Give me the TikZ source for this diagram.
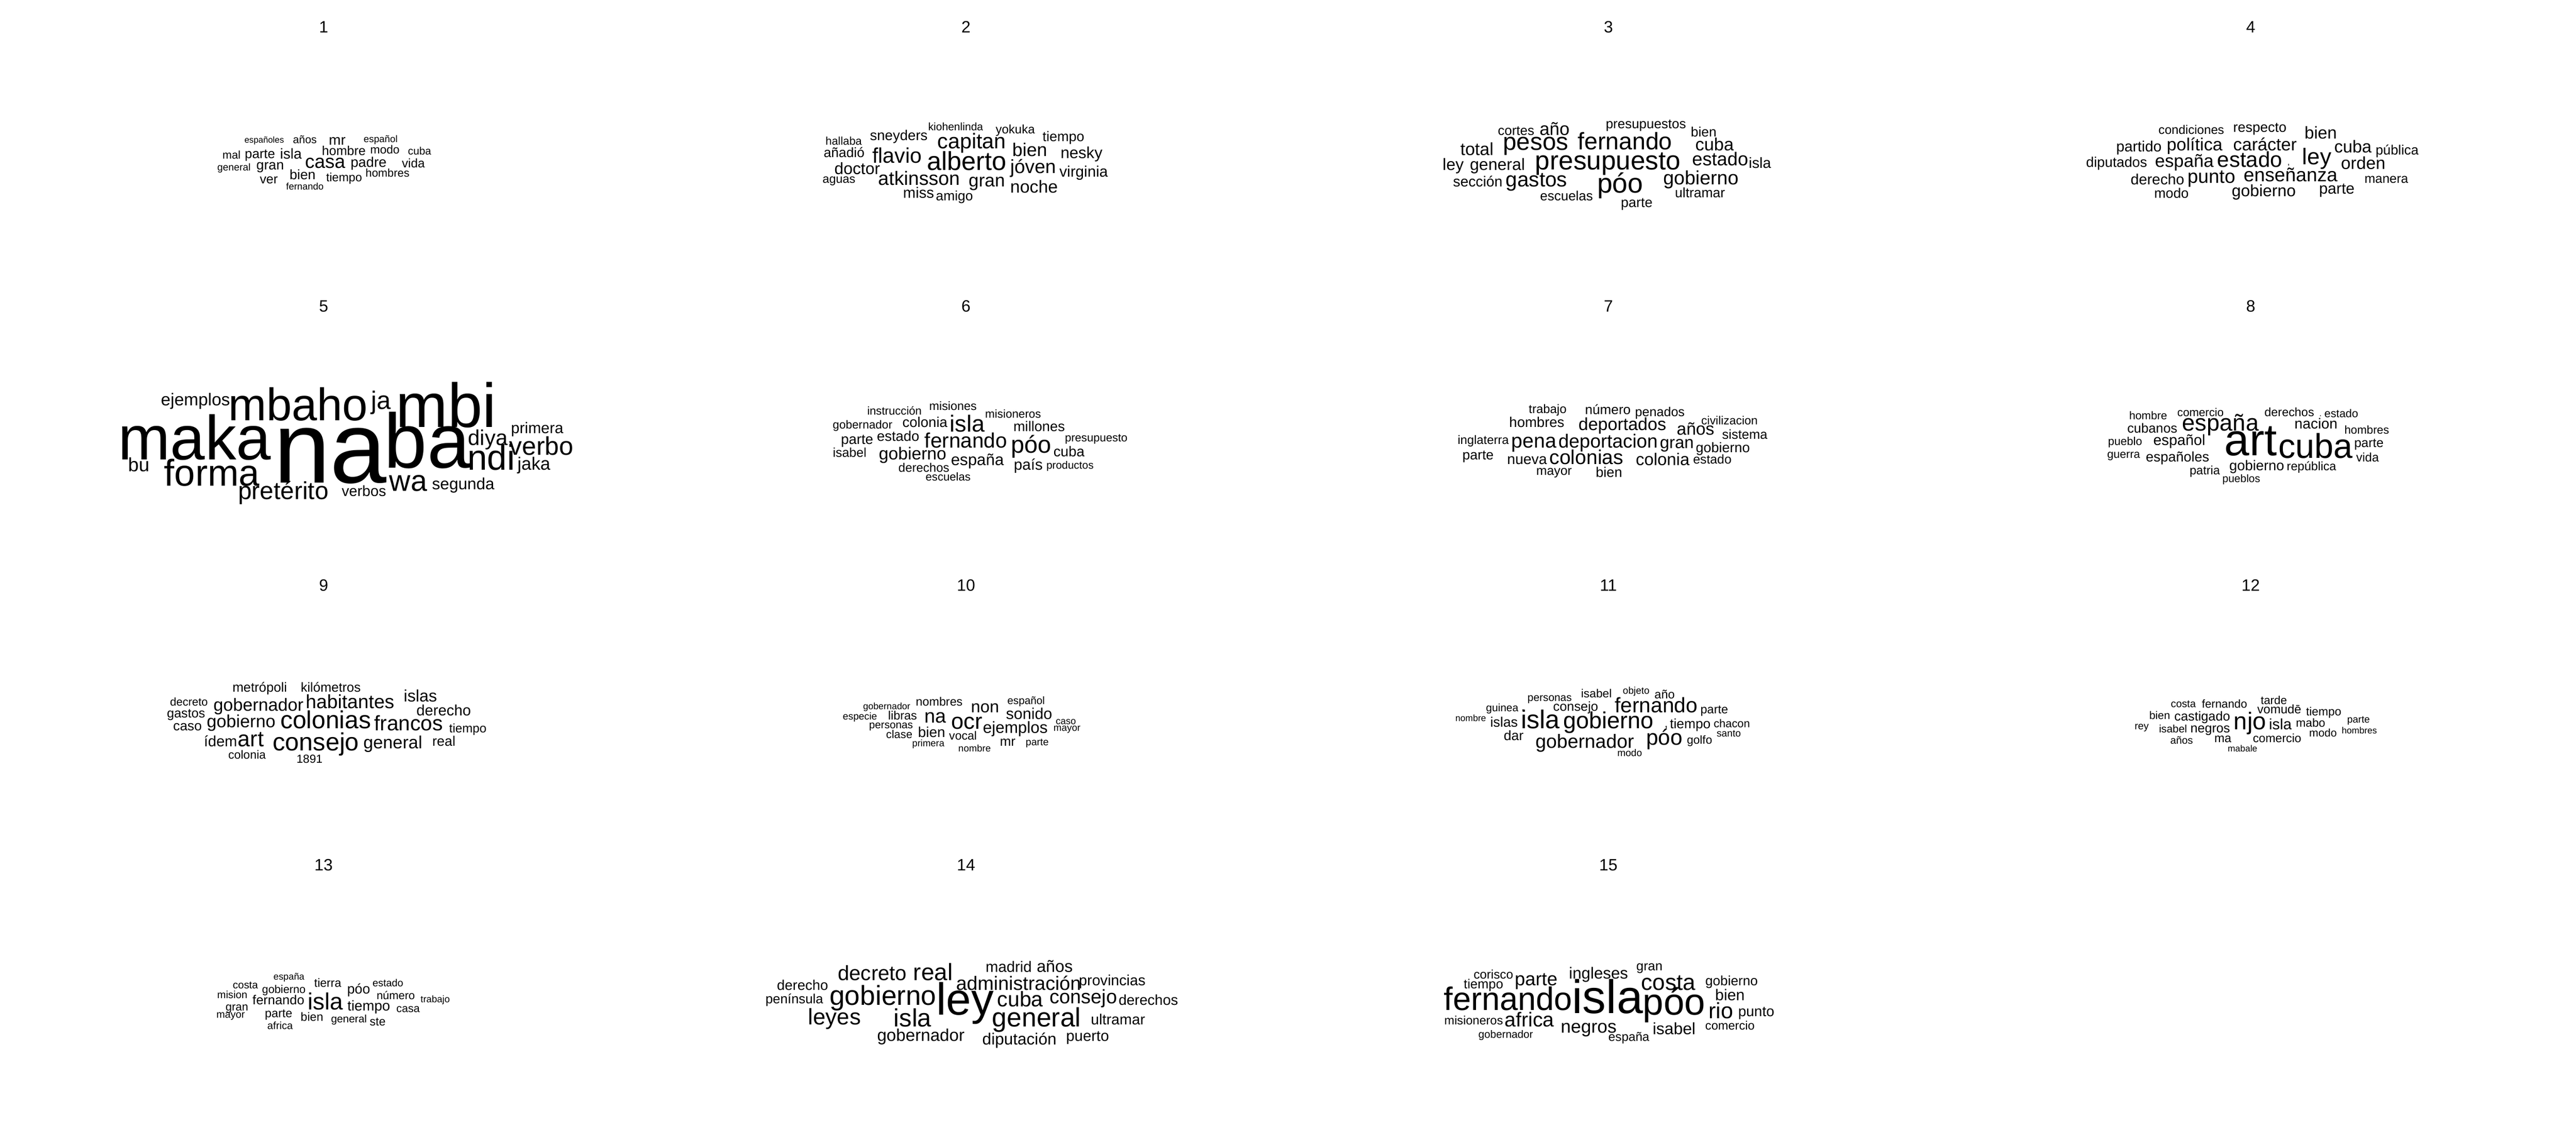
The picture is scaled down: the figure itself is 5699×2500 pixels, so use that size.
\documentclass[tikz,border=0pt]{standalone}
\usepackage{fontspec}
\setmainfont{Liberation Sans}
\newcounter{wc}
\tikzset{wd/.style={anchor=base,inner sep=0pt,outer sep=0pt,text=black}}
\newcommand\wrd[4]{\stepcounter{wc}\pgfmathsetmacro\fs{#3*\kx}\node[wd,font=\fontsize{\fs}{\fs}\selectfont] (w\arabic{wc}) at (#1,#2) {#4};}
\begin{document}
\begin{tikzpicture}[x=1pt,y=-1pt]
\fill[white] (0,0) rectangle (5699,2500);
\useasboundingbox (0,0) rectangle (5699,2500);
% titles and display-based panels
\begin{scope}[xscale=3.6346,yscale=3.6346]
\def\kx{3.6346}
\wrd{197}{20}{10}{1}\wrd{588}{20}{10}{2}\wrd{979}{20}{10}{3}\wrd{1370}{20}{10}{4}
\wrd{197}{190}{10}{5}\wrd{588}{190}{10}{6}\wrd{979}{190}{10}{7}\wrd{1370}{190}{10}{8}
\wrd{197}{360}{10}{9}\wrd{588}{360}{10}{10}\wrd{979}{360}{10}{11}\wrd{1370}{360}{10}{12}
\wrd{197}{530}{10}{13}\wrd{588}{530}{10}{14}\wrd{979}{530}{10}{15}
% panel 5
\wrd{119}{247}{10.5}{ejemplos}
\wrd{181.5}{256}{27.8}{mbaho}
\wrd{232}{249}{15.4}{ja}
\wrd{271.5}{260}{37.9}{mbi}
\wrd{118.5}{280}{38}{maka}
\wrd{201}{294}{62}{na}
\wrd{260}{285}{47}{ba}
\wrd{299}{286}{21.7}{ndi}
\wrd{297}{271}{13.1}{diya}
\wrd{327}{264}{9.4}{primera}
\wrd{329.5}{277}{15.6}{verbo}
\wrd{325}{286}{10.9}{jaka}
\wrd{84.5}{287}{11.7}{bu}
\wrd{129}{296}{22.7}{forma}
\wrd{248.5}{299}{18}{wa}
\wrd{282}{298}{9.9}{segunda}
\wrd{172.5}{304}{15}{pretérito}
\wrd{221.5}{302}{9}{verbos}
% panel 14
\wrd{614}{592}{9.2}{madrid}
\wrd{642}{592}{10.1}{años}
\wrd{531}{597}{12.6}{decreto}
\wrd{568}{597}{14.4}{real}
\wrd{620}{603}{11.8}{administración}
\wrd{677}{600}{9}{provincias}
\wrd{488.5}{603}{8.6}{derecho}
\wrd{483.5}{611}{8.1}{península}
\wrd{537.5}{612}{16.7}{gobierno}
\wrd{587.5}{618}{27.4}{ley}
\wrd{621}{613}{12.9}{cuba}
\wrd{659.5}{611}{11.9}{consejo}
\wrd{699}{612}{8.8}{derechos}
\wrd{508}{624}{13.7}{leyes}
\wrd{555.5}{625}{15.3}{isla}
\wrd{631}{625}{16.2}{general}
\wrd{680.5}{624}{9}{ultramar}
\wrd{560.5}{634}{10.4}{gobernador}
\wrd{620.5}{636}{9.9}{diputación}
\wrd{662}{634}{9.2}{puerto}
% panel 15
\wrd{909}{596}{7.6}{corisco}
\wrd{1004}{591}{8}{gran}
\wrd{973}{596}{9.8}{ingleses}
\wrd{935}{600}{11.4}{parte}
\wrd{1015.5}{603}{13.8}{costa}
\wrd{1054}{600}{8.2}{gobierno}
\wrd{903}{602}{8}{tiempo}
\wrd{918}{615}{19.8}{fernando}
\wrd{978.5}{617}{28.7}{isla}
\wrd{1019}{618}{22.8}{póo}
\wrd{1053}{609}{9.5}{bien}
\wrd{1047.5}{620}{13.5}{rio}
\wrd{1069}{619}{8.8}{punto}
\wrd{897}{624}{7.4}{misioneros}
\wrd{931}{625}{12.3}{africa}
\wrd{967}{629}{11.1}{negros}
\wrd{1019}{630}{10}{isabel}
\wrd{916.5}{632}{6.5}{gobernador}
\wrd{991.5}{634}{7.6}{españa}
\wrd{1053}{627}{7.4}{comercio}
\end{scope}
% panel 1
\begin{scope}[shift={(470,280)},xscale=0.338,yscale=0.33333]
\def\kx{0.338}
\wrd{339}{110}{56.7}{españoles}
\wrd{605}{112}{72}{años}
\wrd{817}{122}{93.5}{mr}
\wrd{1101}{104}{63.4}{español}
\wrd{125}{215}{73.2}{mal}
\wrd{311}{213}{86.9}{parte}
\wrd{514}{215}{94.7}{isla}
\wrd{860}{190}{84.4}{hombre}
\wrd{1129}{182}{76.8}{modo}
\wrd{1356}{188}{70.1}{cuba}
\wrd{141}{293}{65.4}{general}
\wrd{378}{285}{90}{gran}
\wrd{738}{275}{124.5}{casa}
\wrd{1022}{270}{91.9}{padre}
\wrd{1315}{273}{81.8}{vida}
\wrd{590}{350}{90}{bien}
\wrd{862}{365}{78.3}{tiempo}
\wrd{1146}{335}{73.8}{hombres}
\wrd{369}{378}{85}{ver}
\wrd{605}{420}{62.1}{fernando}
\end{scope}
% panel 2
\begin{scope}[shift={(1818,257)},xscale=0.4337,yscale=0.33333]
\def\kx{0.4337}
\wrd{683}{95}{55.4}{kiohenlinda}
\wrd{987}{115}{63.1}{yokuka}
\wrd{393}{160}{72.5}{sneyders}
\wrd{112}{190}{57.4}{hallaba}
\wrd{765}{215}{108.6}{capitan}
\wrd{1233}{168}{71}{tiempo}
\wrd{114}{272}{69.3}{añadió}
\wrd{384}{310}{108}{flavio}
\wrd{1061}{268}{94.2}{bien}
\wrd{1325}{280}{81.9}{nesky}
\wrd{740}{360}{132.8}{alberto}
\wrd{181}{385}{83.8}{doctor}
\wrd{1078}{378}{97.5}{jóven}
\wrd{1336}{405}{78}{virginia}
\wrd{88}{445}{61.3}{aguas}
\wrd{496}{458}{98.7}{atkinsson}
\wrd{842}{470}{92.5}{gran}
\wrd{1083}{510}{89.2}{noche}
\wrd{494}{545}{76.9}{miss}
\wrd{677}{560}{69.4}{amigo}
\end{scope}
% panel 3
\begin{scope}[shift={(3231,257)},xscale=0.4732,yscale=0.33333]
\def\kx{0.4732}
\wrd{260}{128}{62.4}{cortes}
\wrd{440}{128}{83.9}{año}
\wrd{867}{83}{62.5}{presupuestos}
\wrd{1137}{138}{63.5}{bien}
\wrd{77}{260}{82}{total}
\wrd{352}{227}{114.3}{pesos}
\wrd{769}{222}{112}{fernando}
\wrd{1188}{230}{83}{cuba}
\wrd{-34}{358}{77.1}{ley}
\wrd{173}{358}{77.1}{general}
\wrd{690}{355}{123.6}{presupuesto}
\wrd{1214}{330}{87.3}{estado}
\wrd{1400}{345}{69.3}{isla}
\wrd{81}{470}{68.2}{sección}
\wrd{356}{470}{97.4}{gastos}
\wrd{747}{510}{128.9}{póo}
\wrd{1124}{455}{90.5}{gobierno}
\wrd{496}{560}{62.6}{escuelas}
\wrd{1120}{540}{63.8}{ultramar}
\wrd{824}{605}{64.9}{parte}
\end{scope}
% panel 4
\begin{scope}[shift={(4700,257)},xscale=0.4566,yscale=0.33333]
\def\kx{0.4566}
\wrd{324}{120}{60.2}{condiciones}
\wrd{656}{105}{67.3}{respecto}
\wrd{951}{150}{83.1}{bien}
\wrd{70}{235}{72}{partido}
\wrd{340}{230}{85.2}{política}
\wrd{681}{228}{85.3}{carácter}
\wrd{932}{320}{110.3}{ley}
\wrd{1107}{243}{83.5}{cuba}
\wrd{1321}{258}{65.7}{pública}
\wrd{-38}{340}{68.2}{diputados}
\wrd{290}{340}{86.6}{españa}
\wrd{607}{340}{104.9}{estado}
\wrd{1157}{352}{84.1}{orden}
\wrd{160}{455}{72}{derecho}
\wrd{421}{445}{92.7}{punto}
\wrd{805}{435}{93}{enseñanza}
\wrd{1269}{445}{62.5}{manera}
\wrd{228}{545}{66.8}{modo}
\wrd{675}{535}{79.7}{gobierno}
\wrd{1029}{515}{75.5}{parte}
\wrd{795}{325}{40}{,}
\end{scope}
% panel 6
\begin{scope}[shift={(1836,881)},xscale=0.4464,yscale=0.33333]
\def\kx{0.4464}
\wrd{610}{80}{59.6}{misiones}
\wrd{320}{112}{56.5}{instrucción}
\wrd{908}{133}{57.3}{misioneros}
\wrd{162}{205}{57.7}{gobernador}
\wrd{471}{195}{70.4}{colonia}
\wrd{681}{225}{115.3}{isla}
\wrd{1037}{220}{69.5}{millones}
\wrd{135}{305}{70.2}{parte}
\wrd{338}{285}{70}{estado}
\wrd{674}{330}{103.4}{fernando}
\wrd{998}{365}{119.9}{póo}
\wrd{1320}{290}{56.3}{presupuesto}
\wrd{98}{392}{63.9}{isabel}
\wrd{410}{410}{86.1}{gobierno}
\wrd{1185}{388}{71}{cuba}
\wrd{731}{445}{79.9}{españa}
\wrd{983}{478}{75.7}{país}
\wrd{466}{490}{61.3}{derechos}
\wrd{1190}{470}{53.3}{productos}
\wrd{586}{548}{56.5}{escuelas}
\end{scope}
% panel 7
\begin{scope}[shift={(3231,881)},xscale=0.4694,yscale=0.33333]
\def\kx{0.4694}
\wrd{411}{100}{58.2}{trabajo}
\wrd{695}{108}{63.4}{número}
\wrd{940}{122}{61}{penados}
\wrd{360}{192}{66.8}{hombres}
\wrd{763}{215}{82.6}{deportados}
\wrd{1268}{175}{55.6}{civilizacion}
\wrd{1108}{245}{81.6}{años}
\wrd{1340}{272}{62.1}{sistema}
\wrd{107.5}{305}{57.8}{inglaterra}
\wrd{346}{330}{95.3}{pena}
\wrd{696}{330}{89.6}{deportacion}
\wrd{1020}{335}{80}{gran}
\wrd{1237}{360}{65.5}{gobierno}
\wrd{83}{408}{64.5}{parte}
\wrd{314}{440}{69}{nueva}
\wrd{594}{438}{94.9}{colonias}
\wrd{953}{445}{79.9}{colonia}
\wrd{1187}{435}{60.3}{estado}
\wrd{441}{512}{60.5}{mayor}
\wrd{700}{525}{66.1}{bien}
\end{scope}
% panel 8
\begin{scope}[shift={(4700,895)},xscale=0.4337,yscale=0.33333]
\def\kx{0.4337}
\wrd{121}{100}{56.9}{hombre}
\wrd{388}{80}{58.4}{comercio}
\wrd{841}{80}{61.5}{derechos}
\wrd{1106}{88}{57.3}{estado}
\wrd{1000}{80}{40}{.}
\wrd{142}{190}{67.5}{cubanos}
\wrd{490}{175}{118.9}{españa}
\wrd{977}{160}{74.3}{nacion}
\wrd{1236}{197}{58.6}{hombres}
\wrd{3}{270}{58}{pueblo}
\wrd{280}{272}{75.7}{español}
\wrd{644}{340}{229.6}{art}
\wrd{975}{355}{175.3}{cuba}
\wrd{1247}{285}{65.8}{parte}
\wrd{-4}{355}{58}{guerra}
\wrd{271}{380}{70.9}{españoles}
\wrd{1240}{382}{63.2}{vida}
\wrd{410}{465}{62}{patria}
\wrd{675}{440}{72}{gobierno}
\wrd{954}{440}{62.1}{república}
\wrd{596}{518}{55.1}{pueblos}
\end{scope}
% panel 9
\begin{scope}[shift={(367,1505)},xscale=0.4688,yscale=0.33333]
\def\kx{0.4688}
\wrd{443}{80}{62.5}{metrópoli}
\wrd{778}{80}{62.1}{kilómetros}
\wrd{109}{172}{53.4}{decreto}
\wrd{437}{205}{83.1}{gobernador}
\wrd{869}{190}{90.6}{habitantes}
\wrd{1201}{145}{78.5}{islas}
\wrd{1311}{235}{71.1}{derecho}
\wrd{95}{250}{61.1}{gastos}
\wrd{355}{315}{83.3}{gobierno}
\wrd{754}{320}{116.7}{colonias}
\wrd{1145}{335}{99.1}{francos}
\wrd{102}{335}{63.9}{caso}
\wrd{1425}{350}{58.6}{tiempo}
\wrd{258}{440}{70.6}{ídem}
\wrd{401}{440}{104.5}{art}
\wrd{708}{470}{118.1}{consejo}
\wrd{1071}{455}{83.4}{general}
\wrd{1312}{437}{65.4}{real}
\wrd{383}{522}{55.9}{colonia}
\wrd{678}{550}{55.3}{1891}
\end{scope}
% panel 10
\begin{scope}[shift={(1900,1535)},xscale=0.3508,yscale=0.33333]
\def\kx{0.3508}
\wrd{507}{80}{75.8}{nombres}
\wrd{176}{105}{58.1}{gobernador}
\wrd{796}{125}{106.1}{non}
\wrd{1055}{70}{67.4}{español}
\wrd{7}{175}{62.7}{especie}
\wrd{276}{175}{76.2}{libras}
\wrd{483}{195}{123.2}{na}
\wrd{681}{235}{141.8}{ocr}
\wrd{1074}{170}{99.1}{sonido}
\wrd{1306}{205}{60.1}{caso}
\wrd{203}{230}{67.3}{personas}
\wrd{987}{262}{102.2}{ejemplos}
\wrd{1313}{248}{61.2}{mayor}
\wrd{255}{295}{71.1}{clase}
\wrd{459}{290}{91}{bien}
\wrd{657}{308}{75}{vocal}
\wrd{438}{350}{59.9}{primera}
\wrd{939}{347}{84}{mr}
\wrd{1125}{345}{63.6}{parte}
\wrd{730}{385}{60.2}{nombre}
\end{scope}
% panel 11
\begin{scope}[shift={(3231,1520)},xscale=0.4464,yscale=0.33333]
\def\kx{0.4464}
\wrd{871}{48}{48.5}{objeto}
\wrd{674}{70}{58.2}{isabel}
\wrd{1012}{78}{60}{año}
\wrd{442}{95}{53.2}{personas}
\wrd{207}{165}{53.3}{guinea}
\wrd{310}{160}{60}{.}
\wrd{571}{160}{64.7}{consejo}
\wrd{970}{170}{103.9}{fernando}
\wrd{1258}{178}{60.1}{parte}
\wrd{51}{230}{44.8}{nombre}
\wrd{216}{265}{68.5}{islas}
\wrd{396}{278}{128}{isla}
\wrd{734}{278}{115.1}{gobierno}
\wrd{1020}{270}{60}{,}
\wrd{1139}{275}{67.3}{tiempo}
\wrd{1345}{270}{55.8}{chacon}
\wrd{264}{355}{67.8}{dar}
\wrd{1330}{330}{49.1}{santo}
\wrd{616}{405}{95.4}{gobernador}
\wrd{1010}{385}{107.9}{póo}
\wrd{1185}{380}{57.7}{golfo}
\wrd{839}{462}{48.8}{modo}
\end{scope}
% panel 12
\begin{scope}[shift={(4737,1540)},xscale=0.3763,yscale=0.33333]
\def\kx{0.3763}
\wrd{780}{55}{67.6}{tarde}
\wrd{248}{75}{61.5}{costa}
\wrd{490}{80}{67.4}{fernando}
\wrd{812}{118}{72.8}{vomudē}
\wrd{1073}{130}{69}{tiempo}
\wrd{109}{155}{64.6}{bien}
\wrd{359}{165}{76.6}{castigado}
\wrd{640}{222}{142.4}{njo}
\wrd{818}{222}{88.7}{isla}
\wrd{996}{205}{69.2}{mabo}
\wrd{1278}{178}{58.4}{parte}
\wrd{3}{225}{60}{rey}
\wrd{187}{243}{63.2}{isabel}
\wrd{406}{245}{76.2}{negros}
\wrd{1069}{270}{64.8}{modo}
\wrd{1283}{250}{53.2}{hombres}
\wrd{238}{320}{61.3}{años}
\wrd{480}{310}{72}{ma}
\wrd{799}{310}{70.3}{comercio}
\wrd{596}{370}{52.8}{mabale}
\end{scope}
% panel 13
\begin{scope}[shift={(459,2155)},xscale=0.3635,yscale=0.33333]
\def\kx{0.3635}
\wrd{496}{40}{57.3}{españa}
\wrd{732}{88}{72.4}{tierra}
\wrd{231}{97}{64}{costa}
\wrd{465}{128}{68.1}{gobierno}
\wrd{920}{133}{83.9}{póo}
\wrd{1098}{85}{62.3}{estado}
\wrd{151}{165}{63.3}{mision}
\wrd{432}{205}{79.8}{fernando}
\wrd{717}{240}{143.3}{isla}
\wrd{1146}{170}{68.7}{número}
\wrd{1386}{190}{58.2}{trabajo}
\wrd{982}{245}{86.6}{tiempo}
\wrd{179}{245}{69}{gran}
\wrd{1221}{255}{67.7}{casa}
\wrd{141}{295}{62.3}{mayor}
\wrd{433}{290}{73.3}{parte}
\wrd{636}{315}{72.5}{bien}
\wrd{861}{325}{65.4}{general}
\wrd{1036}{345}{72.7}{ste}
\wrd{442}{370}{63.4}{africa}
\end{scope}
\end{tikzpicture}
\end{document}
